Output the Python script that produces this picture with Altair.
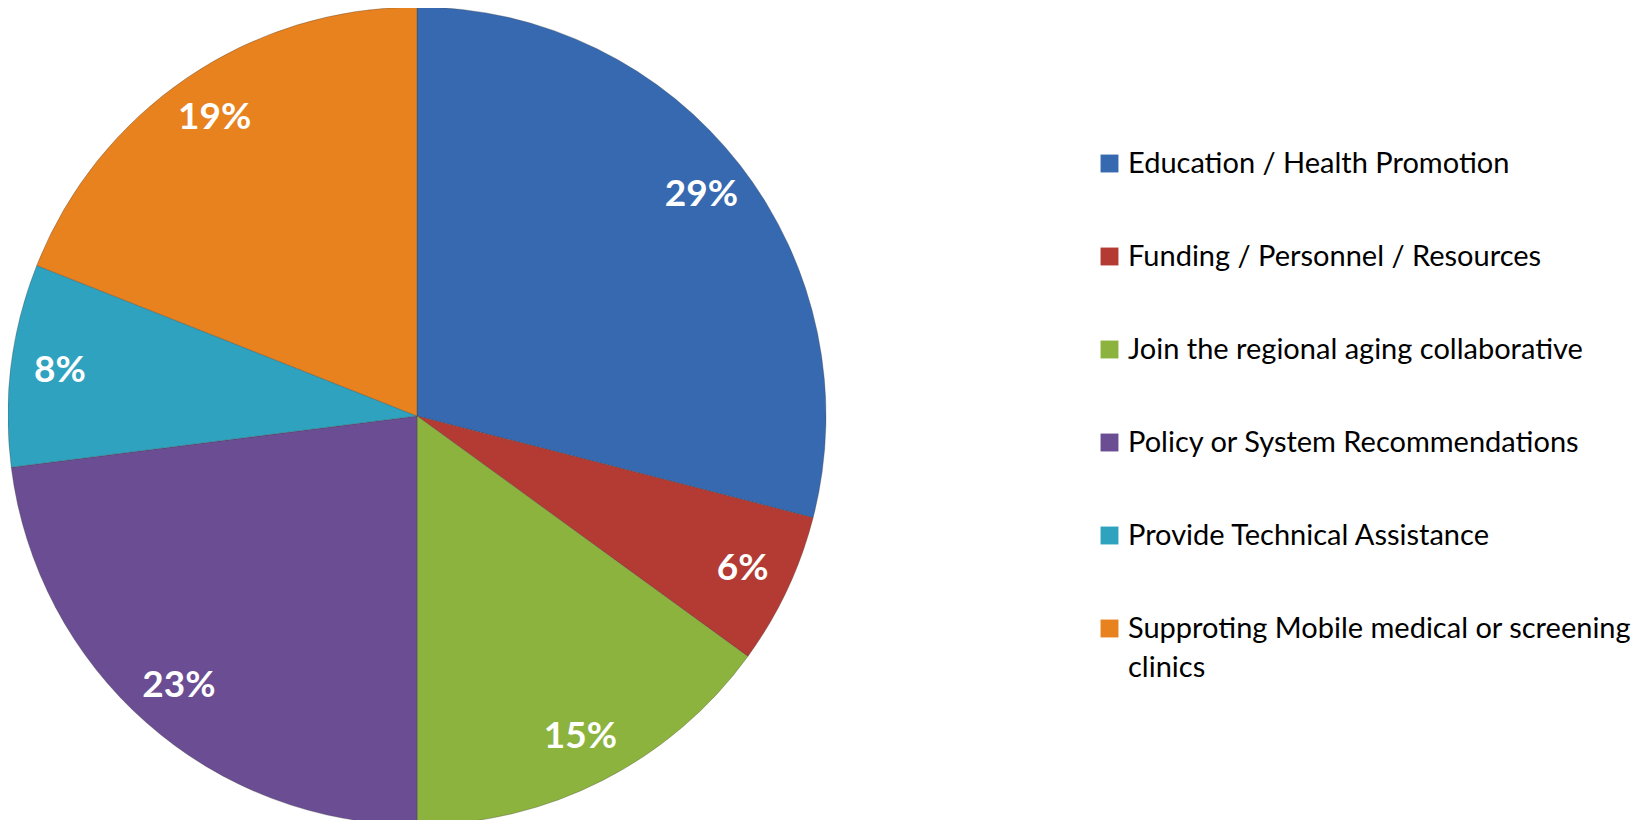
import altair as alt
import pandas as pd

categories = [
    "Education / Health Promotion",
    "Funding / Personnel / Resources",
    "Join the regional aging collaborative",
    "Policy or System Recommendations",
    "Provide Technical Assistance",
    "Supproting Mobile medical or screening clinics",
]
values = [29, 6, 15, 23, 8, 19]
labels = ["29%", "6%", "15%", "23%", "8%", "19%"]
colors = ["#3769b1", "#b33b33", "#8db33f", "#6b4d93", "#2fa2bf", "#e8821f"]

df = pd.DataFrame({"cat": categories, "value": values, "label": labels,
                   "order": list(range(len(categories)))})

cx, cy, R = 409, 408, 409

base = alt.Chart(df).encode(
    theta=alt.Theta("value:Q", stack=True),
    order=alt.Order("order:Q"),
)

color_scale = alt.Scale(domain=categories, range=colors)

arcs = base.mark_arc(outerRadius=R, stroke="#3a3a3a", strokeWidth=0.6, strokeOpacity=0.5).encode(
    x=alt.value(cx), y=alt.value(cy),
    color=alt.Color("cat:N", scale=color_scale, sort=categories,
                    legend=alt.Legend(
                        title=None, orient="none", legendX=1087, legendY=141,
                        symbolType="square", symbolSize=320, symbolStrokeWidth=0,
                        labelFont="Lato", labelFontSize=29, labelColor="#000000",
                        labelLimit=700, rowPadding=63, symbolOffset=0, labelOffset=4,
                        labelExpr="datum.label == 'Supproting Mobile medical or screening clinics' ? ['Supproting Mobile medical or screening', 'clinics'] : datum.label",
                    )),
)

text = base.mark_text(radius=360, font="Lato", fontWeight="bold", fontSize=37,
                      color="white").encode(
    x=alt.value(cx), y=alt.value(cy),
    text="label:N",
)

chart = alt.layer(arcs, text).properties(
    width=1625, height=812,
    autosize=alt.AutoSizeParams(type="none"),
    padding=0,
).configure(style={"guide-label": {"lineHeight": 39}}).configure_view(stroke=None)

chart.save("out.html", embed_options={"renderer": "svg", "actions": False})
